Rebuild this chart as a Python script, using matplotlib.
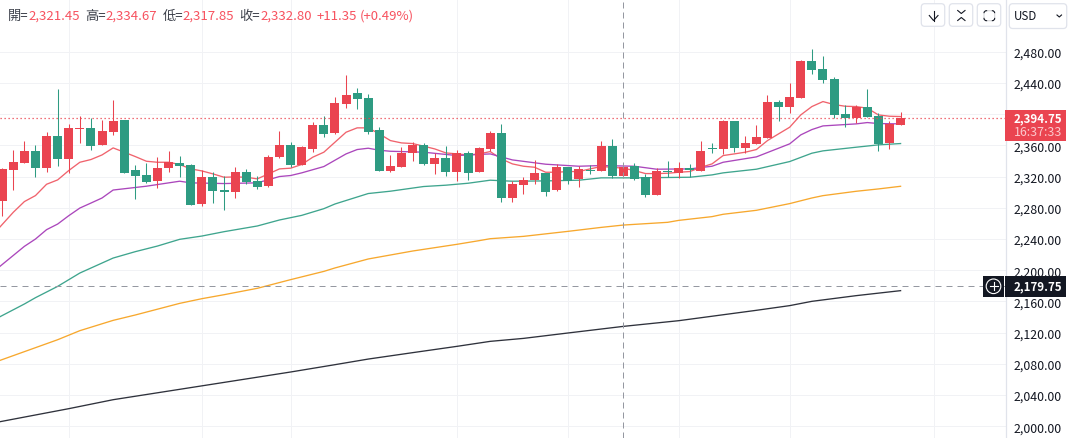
import matplotlib
matplotlib.use("Agg")
import matplotlib.pyplot as plt
from matplotlib.patches import FancyBboxPatch, Rectangle, Circle

plt.rcParams['font.family'] = ['Noto Sans CJK TC', 'Noto Sans', 'DejaVu Sans']

opens = [2289.4, 2328.7, 2337.7, 2353.1, 2331.3, 2372.3, 2342.8, 2381.7, 2382.6, 2360.8,
         2377.4, 2392.8, 2328.7, 2322.3, 2314.6, 2331.3, 2337.7, 2335.1, 2285.1, 2319.7,
         2303.1, 2300.5, 2326.2, 2314.6, 2308.2, 2345.4, 2360.8, 2335.1, 2355.6, 2386.4,
         2376.2, 2413.3, 2427.4, 2421.0, 2380.0, 2327.4, 2332.6, 2350.5, 2360.8, 2336.4,
         2344.1, 2326.2, 2350.5, 2326.2, 2355.6, 2376.2, 2292.8, 2309.5, 2315.9, 2324.9,
         2303.1, 2332.6, 2317.2, 2328.7, 2327.4, 2359.5, 2321.0, 2333.8, 2319.7, 2296.7,
         2327.4, 2324.9, 2331.3, 2327.4, 2356.9, 2355.6, 2391.5, 2356.9, 2362.1, 2369.7,
         2415.9, 2409.5, 2421.0, 2468.5, 2458.2, 2445.4, 2400.5, 2395.4, 2409.5, 2397.9,
         2363.3, 2386.4]
highs = [2331.3, 2354.4, 2365.9, 2360.8, 2377.4, 2432.6, 2387.7, 2397.9, 2395.4, 2392.8,
         2418.5, 2392.8, 2335.1, 2337.7, 2345.4, 2353.1, 2346.7, 2336.4, 2328.7, 2326.2,
         2321.0, 2332.6, 2330.0, 2321.0, 2347.9, 2378.7, 2364.6, 2359.5, 2390.3, 2397.9,
         2422.3, 2450.5, 2433.8, 2426.2, 2383.8, 2347.9, 2358.2, 2364.6, 2363.3, 2350.5,
         2359.5, 2354.4, 2353.1, 2358.2, 2378.7, 2387.7, 2314.6, 2319.7, 2341.5, 2324.9,
         2336.4, 2332.6, 2333.8, 2335.1, 2365.9, 2368.5, 2335.1, 2337.7, 2323.6, 2331.3,
         2340.3, 2339.0, 2336.4, 2365.9, 2363.3, 2392.8, 2391.5, 2372.3, 2386.4, 2424.9,
         2418.5, 2440.3, 2469.7, 2483.8, 2474.9, 2447.9, 2412.1, 2412.1, 2432.6, 2401.8,
         2391.5, 2403.1]
lows = [2270.2, 2303.1, 2337.7, 2319.7, 2326.2, 2333.8, 2324.9, 2363.3, 2354.4, 2360.8,
        2373.6, 2324.9, 2291.5, 2312.1, 2305.6, 2326.2, 2319.7, 2283.8, 2282.6, 2286.4,
        2277.4, 2292.8, 2310.8, 2304.4, 2306.9, 2344.1, 2332.6, 2335.1, 2351.8, 2371.0,
        2374.9, 2408.2, 2406.9, 2374.9, 2327.4, 2326.2, 2332.6, 2340.3, 2335.1, 2323.6,
        2321.0, 2314.6, 2315.9, 2326.2, 2353.1, 2287.7, 2287.7, 2297.9, 2310.8, 2295.4,
        2301.8, 2310.8, 2306.9, 2323.6, 2327.4, 2318.5, 2321.0, 2315.9, 2294.1, 2296.7,
        2319.7, 2318.5, 2319.7, 2327.4, 2350.5, 2349.2, 2351.8, 2350.5, 2362.1, 2369.7,
        2391.5, 2401.8, 2421.0, 2451.8, 2440.3, 2395.4, 2383.8, 2389.0, 2396.7, 2353.1,
        2355.6, 2386.4]
closes = [2330.0, 2339.0, 2353.1, 2331.3, 2372.3, 2342.8, 2382.6, 2382.6, 2359.5, 2378.7,
          2391.5, 2324.9, 2321.0, 2313.3, 2331.3, 2339.0, 2333.8, 2283.8, 2319.7, 2301.8,
          2300.5, 2326.2, 2313.3, 2306.9, 2345.4, 2360.8, 2335.1, 2358.2, 2386.4, 2374.9,
          2414.6, 2424.9, 2419.7, 2377.4, 2327.4, 2333.8, 2350.5, 2360.8, 2336.4, 2344.1,
          2326.2, 2350.5, 2324.9, 2356.9, 2376.2, 2292.8, 2310.8, 2315.9, 2324.9, 2300.5,
          2332.6, 2314.6, 2330.0, 2327.4, 2359.5, 2321.0, 2332.6, 2317.2, 2296.7, 2327.4,
          2326.2, 2331.3, 2328.7, 2353.1, 2356.1, 2391.5, 2356.9, 2363.3, 2371.0, 2415.9,
          2409.5, 2422.3, 2468.5, 2456.9, 2444.1, 2399.2, 2395.4, 2409.5, 2396.7, 2362.1,
          2387.7, 2394.75]

# moving averages, read off at the bars where the line bends
# (first reading of each is at the left edge of the chart)
ma_red_bars = [-0.2] + list(range(1, 82))
ma_red = [2255.6, 2274.4, 2288.1, 2295.8, 2310.3, 2315.9, 2327.9, 2338.5, 2342.0, 2347.9,
          2356.9, 2351.4, 2345.8, 2339.8, 2338.5, 2338.5, 2335.6, 2330.0, 2327.4, 2323.6,
          2319.3, 2319.7, 2319.3, 2317.2, 2323.6, 2330.0, 2330.9, 2335.6, 2345.0, 2351.4,
          2364.2, 2377.0, 2382.6, 2382.6, 2374.9, 2366.3, 2363.3, 2362.5, 2359.1, 2355.6,
          2350.5, 2349.2, 2347.9, 2349.2, 2352.2, 2342.8, 2336.4, 2333.4, 2332.1, 2325.7,
          2325.7, 2326.6, 2326.6, 2330.0, 2333.0, 2332.1, 2330.9, 2327.9, 2324.0, 2324.0,
          2324.4, 2325.7, 2326.6, 2332.1, 2336.4, 2347.1, 2349.2, 2351.4, 2354.8, 2366.3,
          2374.9, 2383.4, 2399.2, 2409.9, 2416.3, 2412.5, 2410.3, 2409.9, 2407.8, 2399.2,
          2397.5, 2397.1]
ma_purple_bars = [-0.2, 2, 3, 4, 5, 6, 7, 8, 9, 10, 13, 16, 17, 20, 23, 25, 26, 27, 29, 31, 32, 33,
                  34, 35, 38, 41, 44, 46, 49, 52, 54, 57, 59, 62, 64, 65, 68, 71, 72, 73, 74,
                  77, 78, 79, 81]
ma_purple = [2205.1, 2230.7, 2240.1, 2252.1, 2259.3, 2270.0, 2279.8, 2286.2, 2292.7, 2302.9,
             2307.8, 2314.2, 2312.1, 2311.2, 2312.1, 2320.2, 2321.5, 2324.9, 2333.0, 2349.2,
             2354.8, 2356.5, 2353.9, 2352.6, 2351.4, 2347.1, 2349.2, 2341.5, 2336.0, 2333.4,
             2334.3, 2333.4, 2329.6, 2330.0, 2333.4, 2338.5, 2345.4, 2362.1, 2373.6, 2380.4,
             2385.1, 2387.7, 2389.4, 2388.1, 2387.7]
ma_teal_bars = [-0.2, 2, 3, 5, 7, 8, 10, 12, 14, 16, 18, 20, 23, 25, 27, 29, 30, 33, 35, 38, 40,
                42, 44, 46, 49, 52, 54, 57, 62, 64, 65, 68, 71, 73, 74, 77, 79, 81]
ma_teal = [2140.5, 2156.8, 2164.9, 2179.4, 2196.5, 2202.9, 2215.7, 2223.9, 2231.1, 2239.7,
           2243.9, 2249.5, 2256.8, 2264.5, 2270.4, 2279.0, 2285.0, 2298.4, 2301.4, 2307.4,
           2309.1, 2311.6, 2315.5, 2314.2, 2314.6, 2315.5, 2318.5, 2318.5, 2319.3, 2322.3,
           2324.9, 2329.6, 2339.4, 2350.1, 2353.1, 2357.8, 2360.8, 2362.5]
ma_orange_bars = [-0.2, 5, 7, 10, 12, 16, 18, 20, 23, 26, 29, 30, 33, 37, 41, 43, 44, 47, 51, 54,
                  56, 60, 61, 64, 65, 68, 71, 73, 74, 77, 79, 81]
ma_orange = [2084.5, 2111.0, 2122.6, 2135.8, 2142.7, 2157.6, 2163.6, 2168.7, 2176.9, 2188.0,
             2198.6, 2203.0, 2214.5, 2224.7, 2233.3, 2238.0, 2240.5, 2243.5, 2249.9, 2255.0,
             2258.0, 2261.5, 2264.0, 2268.8, 2271.8, 2276.9, 2285.5, 2292.7, 2295.7, 2301.3,
             2304.3, 2307.7]
ma_black_bars = [-0.2, 6, 10, 16, 21, 26, 30, 33, 37, 41, 44, 47, 51, 56, 61, 68, 71, 73, 77, 81]
ma_black = [2005.9, 2022.6, 2034.1, 2047.4, 2058.5, 2069.6, 2079.0, 2086.2, 2094.4, 2102.5,
            2108.9, 2112.7, 2119.6, 2128.1, 2135.4, 2148.7, 2154.7, 2160.2, 2167.5, 2173.9]

price_ticks = [2000, 2040, 2080, 2120, 2160, 2200, 2240, 2280, 2320, 2360, 2400, 2440, 2480]
time_grid_bars = [6, 18, 26, 41, 51, 61, 71, 84]
last_price = 2394.75
cross_bar = 56
cross_price = 2179.75

RED = '#ea4450'
GREEN = '#2e9b82'
INK = '#131722'
BORDER = '#e0e3eb'

fig = plt.figure(figsize=(10.70, 4.39), dpi=100)
ax = fig.add_axes([0, 0, 1005.5 / 1070, 1])
ax.set_xlim(-0.2, 90.46)
ax.set_ylim(1985.0, 2547.8)

ax.set_xticks(time_grid_bars)
ax.set_yticks(price_ticks)
ax.set_yticklabels(["{:,.2f}".format(p) for p in price_ticks])
ax.grid(True, color='#f1f2f5', linewidth=0.72)
ax.set_axisbelow(True)
ax.tick_params(axis='x', length=0, labelbottom=False)
ax.yaxis.tick_right()
ax.tick_params(axis='y', length=0, pad=6, labelsize=8.9, labelcolor=INK)
for lab in ax.get_yticklabels():
    lab.set_va('center_baseline')
for side in ['top', 'left', 'bottom']:
    ax.spines[side].set_visible(False)
ax.spines['right'].set_color(BORDER)
ax.spines['right'].set_linewidth(0.9)

# moving averages go under the candles
ax.plot(ma_red_bars, ma_red, color='#f0636d', lw=0.95, zorder=2)
ax.plot(ma_purple_bars, ma_purple, color='#ab47bc', lw=0.95, zorder=2)
ax.plot(ma_teal_bars, ma_teal, color='#3fa58e', lw=0.95, zorder=2)
ax.plot(ma_orange_bars, ma_orange, color='#f7a82e', lw=0.95, zorder=2)
ax.plot(ma_black_bars, ma_black, color='#2f323c', lw=0.95, zorder=2)

bars = list(range(len(opens)))
colors = [RED if c >= o else GREEN for o, c in zip(opens, closes)]
ax.vlines(bars, lows, highs, colors=colors, linewidth=0.75, zorder=3)
ax.bar(bars, [abs(c - o) for o, c in zip(opens, closes)],
       bottom=[min(o, c) for o, c in zip(opens, closes)],
       width=0.81, color=colors, linewidth=0, zorder=3)

ax.axhline(last_price, color=RED, lw=0.9, ls=(0, (1, 2.2)), zorder=4)
ax.axhline(cross_price, color='#9598a1', lw=0.72, ls=(0, (6, 5)), zorder=4)
ax.axvline(cross_bar, ymin=0.0, color='#9598a1', lw=0.72, ls=(0, (6, 4)), zorder=4)

# overlay in pixel coordinates for the chart controls and price labels
ui = fig.add_axes([0, 0, 1, 1], zorder=5)
ui.set_xlim(0, 1070)
ui.set_ylim(439, 0)
ui.axis('off')

# ohlc header
head = [(8, "開=", '#3c404a'), (28, "2,321.45", '#f7525f'),
        (85, "高=", '#3c404a'), (105.3, "2,334.67", '#f7525f'),
        (162.7, "低=", '#3c404a'), (182.7, "2,317.85", '#f7525f'),
        (239.3, "收=", '#3c404a'), (260, "2,332.80", '#f7525f'),
        (317, "+11.35", '#f7525f'), (360, "(+0.49%)", '#f7525f')]
for x, txt, col in head:
    ui.text(x, 16.5, txt, color=col, fontsize=9.5, va='center', ha='left')

# buttons
for x0, x1, y1 in [(921.3, 944.7, 27.3), (949.3, 972.7, 27.3), (977.3, 1000.7, 27.3), (1009.3, 1066.7, 29.5)]:
    ui.add_patch(FancyBboxPatch((x0, 4.7), x1 - x0, y1 - 4.7, boxstyle="round,pad=0,rounding_size=3.5",
                                fc='white', ec=BORDER, lw=0.9))
ui.plot([933.5, 933.5], [11.5, 21.5], color=INK, lw=0.8)
ui.plot([929.3, 933.5, 938], [16.5, 21.5, 16.5], color=INK, lw=0.8)
ui.plot([957.7, 961.3, 965], [11.5, 14.5, 11.5], color=INK, lw=0.8)
ui.plot([957.7, 961.3, 965], [21.5, 18.5, 21.5], color=INK, lw=0.8)
ui.add_patch(FancyBboxPatch((984, 11.7), 10.7, 10, boxstyle="round,pad=0,rounding_size=2.5",
                            fc='none', ec=INK, lw=0.8))
# the expand icon only has its corners
ui.plot([987.5, 991.2], [11.7, 11.7], color='white', lw=1.2)
ui.plot([987.5, 991.2], [21.7, 21.7], color='white', lw=1.2)
ui.plot([984, 984], [15, 18.4], color='white', lw=1.2)
ui.plot([994.7, 994.7], [15, 18.4], color='white', lw=1.2)
ui.text(1013.5, 16.5, "USD", color=INK, fontsize=8.3, va='center', ha='left')
ui.plot([1057, 1059.3, 1061.5], [16, 18, 16], color=INK, lw=0.8)

# last price tag
ui.add_patch(Rectangle((1005, 111), 61, 30.7, fc=RED, ec='none'))
ui.text(1014, 118.5, "2,394.75", color='white', fontsize=8.3, fontweight='bold', va='center', ha='left')
ui.text(1014, 132.5, "16:37:33", color='#fbc9cd', fontsize=8.9, va='center', ha='left')

# crosshair tag and plus button
ui.add_patch(Rectangle((983.3, 277), 20.7, 20.7, fc=INK, ec='none'))
ui.add_patch(Rectangle((1005, 277), 61, 20.7, fc=INK, ec='none'))
ui.add_patch(Circle((993.5, 287.3), 7.3, fc='none', ec='white', lw=0.8))
ui.plot([989.5, 997.5], [287.3, 287.3], color='white', lw=0.8)
ui.plot([993.5, 993.5], [283.3, 291.3], color='white', lw=0.8)
ui.text(1014, 287, "2,179.75", color='white', fontsize=8.3, fontweight='bold', va='center', ha='left')

fig.savefig("out.png", dpi=100)
